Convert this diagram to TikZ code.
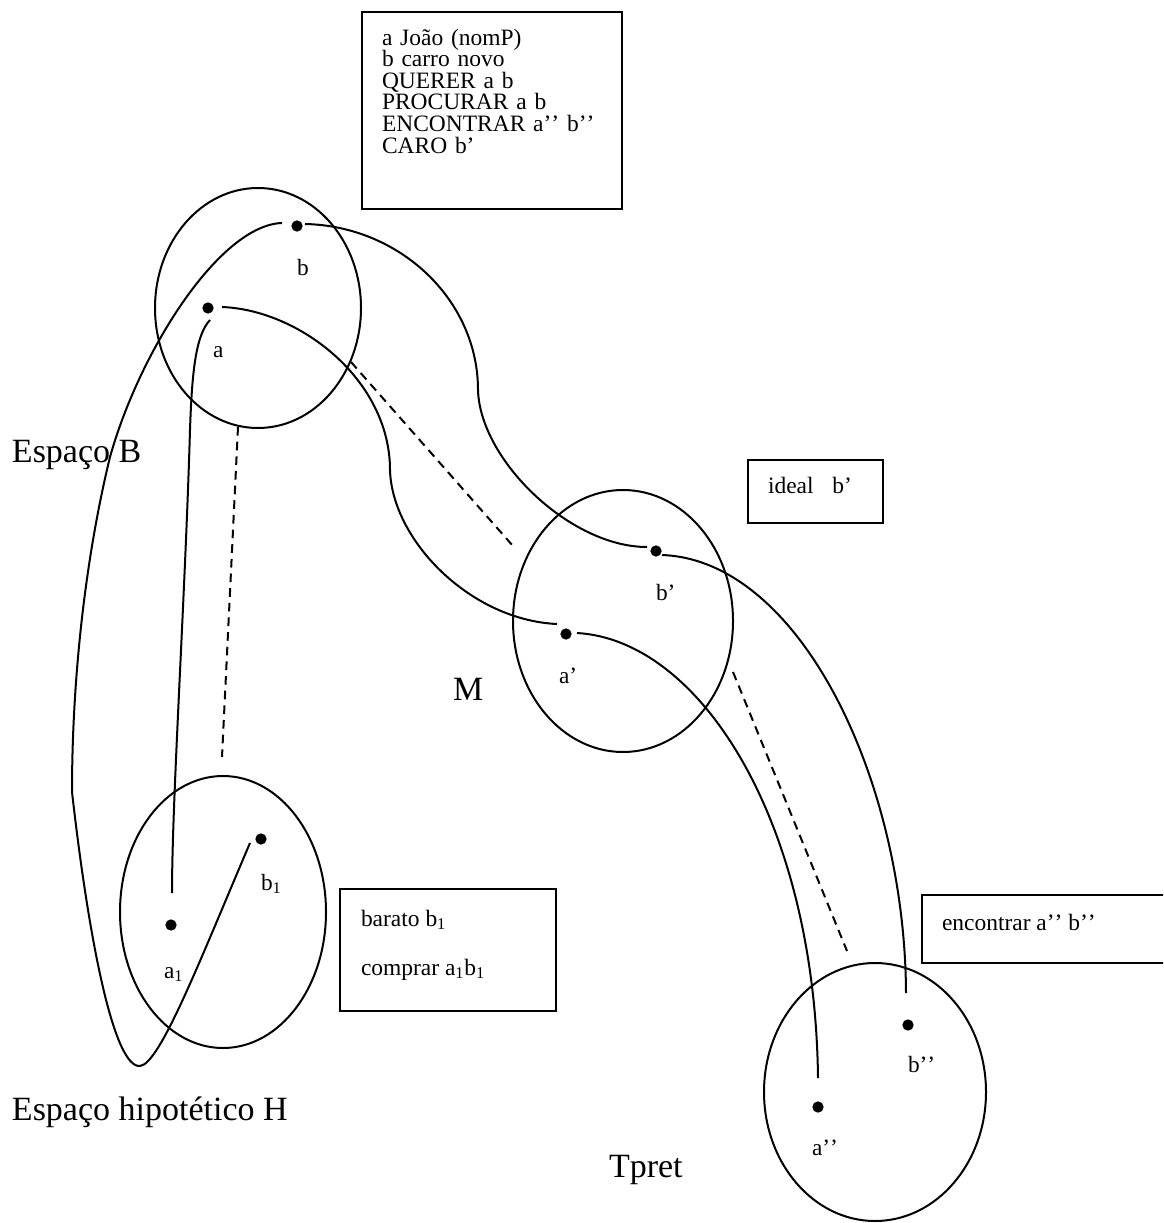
\documentclass[tikz,border=0pt]{standalone}
\usepackage{fontspec}
\setmainfont{Liberation Serif}
\usetikzlibrary{shapes.geometric,calc}
% two separate closing quotes (kept apart so they do not fuse into one glyph)
\newcommand\dq{\textquoteright\kern0pt\textquoteright}
\newcommand\sq{\textquoteright}

\begin{document}
\begin{tikzpicture}[x=0.75pt,y=-0.75pt,
  every node/.style={inner sep=0pt, outer sep=0pt},
  spacering/.style={draw, ellipse, line width=1.5pt},
  dot/.style={circle, fill, minimum size=8.5pt},
  ptlabel/.style={font=\fontsize{17.5}{18}\selectfont, anchor=base west},
  boxtext/.style={font=\fontsize{17.6}{16.2}\selectfont, anchor=base west},
  spacename/.style={font=\fontsize{25.5}{28}\selectfont, anchor=base west},
  infobox/.style={draw, rectangle, line width=1.4pt},
  link/.style={line width=1.5pt},
  counterpart/.style={line width=1.5pt, dash pattern=on 6.5pt off 4.5pt}]

\clip (0,0) rectangle (1163,1223);
\fill[white] (0,0) rectangle (1163,1223);

% mental spaces
\node[spacering, minimum width=154.5pt, minimum height=180pt]   (sB) at (258,308)  {};
\node[spacering, minimum width=165pt,   minimum height=196.5pt] (sM) at (623,621)  {};
\node[spacering, minimum width=154.5pt, minimum height=204pt]   (sH) at (223,912)  {};
\node[spacering, minimum width=166.5pt, minimum height=193.5pt] (sT) at (875,1092) {};

% elements
\node[dot] (pb)   at (297,226)  {};
\node[dot] (pa)   at (208,308)  {};
\node[dot] (pbp)  at (656,551)  {};
\node[dot] (pap)  at (566,634)  {};
\node[dot] (pb1)  at (261,839)  {};
\node[dot] (pa1)  at (171,925)  {};
\node[dot] (pbpp) at (908,1025) {};
\node[dot] (papp) at (818,1107) {};

\node[ptlabel] (lb)   at (297,275)  {b};
\node[ptlabel] (la)   at (213,357)  {a};
\node[ptlabel] (lbp)  at (656,600)  {b\sq};
\node[ptlabel] (lap)  at (559,683)  {a\sq};
\node[ptlabel] (lb1)  at (261,890)  {b\textsubscript{1}};
\node[ptlabel] (la1)  at (164,978)  {a\textsubscript{1}};
\node[ptlabel] (lbpp) at (908,1072) {b\dq};
\node[ptlabel] (lapp) at (812,1155) {a\dq};

% space names
\node[spacename] (nB) at (12,462)   {Espaço B};
\node[spacename] (nM) at (453,700)  {M};
\node[spacename] (nH) at (12,1120)  {Espaço hipotético H};
\node[spacename] (nT) at (609,1177) {Tpret};

% frames
\node[infobox, minimum width=195pt, minimum height=147.75pt] (topbox) at (492,110.5) {};
\node[boxtext, anchor=north west, text width=180pt, align=left] (facts) at (382,27.7)
  {\rule{0pt}{13pt}a João (nomP)\\
   b carro novo\\
   QUERER a b\\
   PROCURAR a b\\
   ENCONTRAR a\dq{} b\dq\\
   CARO b\sq};

\node[infobox, minimum width=101.25pt, minimum height=47.25pt] (idealbox) at (815.5,491.5) {};
\node[boxtext] (ideal) at (768,493) {ideal\hspace{0.8em}b\sq};

\node[infobox, minimum width=162pt, minimum height=91.5pt] (hbox) at (448,950) {};
\node[boxtext] (barato)  at (361,926) {barato b\textsubscript{1}};
\node[boxtext] (comprar) at (361,975) {comprar a\textsubscript{1}b\textsubscript{1}};

\node[infobox, minimum width=189.75pt, minimum height=51pt] (tbox) at (1048.5,929) {};
\node[boxtext] (encontrar) at (942,930) {encontrar a\dq{} b\dq};

% identity connectors
\draw[link] ($(pb)+(8,-2)$) .. controls (400,226) and (478,300) .. (478,390)
            .. controls (480,460) and (570,547) .. ($(pbp)+(-9,-4)$);
\draw[link] ($(pa)+(14,-1)$) .. controls (300,310) and (390,380) .. (390,470)
            .. controls (392,540) and (470,620) .. ($(pap)+(-9,-10)$);
\draw[link] ($(pbp)+(6,4)$) .. controls (800,560) and (905,780) .. ($(pbpp)+(-2,-32)$);
\draw[link] ($(pap)+(11,-1)$) .. controls (700,640) and (815,820) .. ($(papp)+(0,-29)$);
\draw[link] ($(pa)+(2,12)$) .. controls (196,335) and (192,370) .. (190,430)
            .. controls (185,600) and (172,800) .. ($(pa1)+(1,-32)$);
\draw[link] ($(pb)+(-15,-3)$) .. controls (220,225) and (140,350) .. (110,457)
            .. controls (85,560) and (72,680) .. (72,792)
            .. controls (90,950) and (115,1068) .. (140,1066)
            .. controls (160,1064) and (200,960) .. ($(pb1)+(-11,4)$);

% counterpart connectors between spaces
\coordinate (cB1) at (238,427);
\coordinate (cH1) at (222,757);
\coordinate (cB2) at (351,362);
\coordinate (cM2) at (513,546);
\coordinate (cM3) at (733,672);
\coordinate (cT3) at (847,951);
\draw[counterpart] (cB1) -- (cH1);
\draw[counterpart] (cB2) -- (cM2);
\draw[counterpart] (cM3) -- (cT3);
\end{tikzpicture}
\end{document}
